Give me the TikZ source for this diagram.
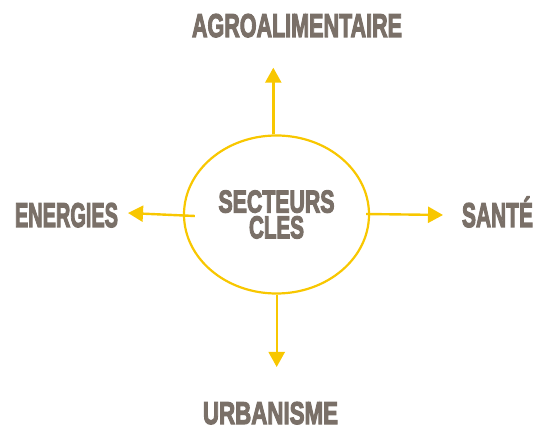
\documentclass[tikz,border=0pt]{standalone}
\usepackage{fontspec}
\usepackage{graphicx}
\usetikzlibrary{shapes.geometric,arrows.meta}
\newfontfamily\labfont{Liberation Sans}[BoldFeatures={FakeBold=4}]
\definecolor{gold}{HTML}{F8C700}
\definecolor{taupe}{HTML}{7A7068}
\newcommand{\lab}[3]{\resizebox{#1pt}{#2pt}{\labfont\bfseries #3}}
\begin{document}
\begin{tikzpicture}[x=1pt,y=-1pt,
  txt/.style={text=taupe,inner sep=0pt,anchor=base},
  arr/.style={draw=gold,line width=2.4pt,-{Triangle[length=15pt,width=16pt]}}]
\useasboundingbox (0,0) rectangle (546,427);
\node[ellipse,draw=gold,line width=2.2pt,minimum width=185pt,minimum height=158pt,inner sep=0pt,
      text=taupe,align=center] (c) at (276.5,214.5)
  {\lab{116}{22}{SECTEURS}\\[2.5pt]\lab{55}{22}{CLES}};
\node[txt] (agro) at (297,37) {\lab{210}{23}{AGROALIMENTAIRE}};
\node[txt] (ener) at (66.5,227) {\lab{103}{24}{ENERGIES}};
\node[txt] (sante) at (497.5,227) {\lab{71}{24}{SANT\smash{É}}};
\node[txt] (urba) at (270.5,424) {\lab{135}{22}{URBANISME}};
\coordinate (tt) at (273.3,67.7);
\coordinate (tl) at (128,213);
\coordinate (tr) at (443,215);
\coordinate (tb) at (276.7,367);
\draw[arr] ([xshift=-3.2pt]c.north) -- (tt);
\draw[arr] ([xshift=12pt,yshift=-1.5pt]c.west) -- (tl);
\draw[arr] ([xshift=-4pt,yshift=0.5pt]c.east) -- (tr);
\draw[arr] ([xshift=0.2pt]c.south) -- (tb);
\end{tikzpicture}
\end{document}
